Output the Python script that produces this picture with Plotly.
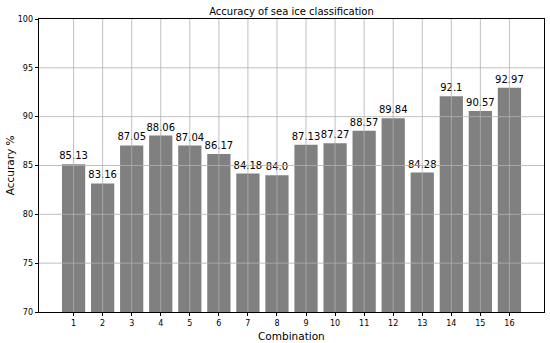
import plotly.graph_objects as go

combinations = list(range(1, 17))
accuracy = [85.13, 83.16, 87.05, 88.06, 87.04, 86.17, 84.18, 84.0,
            87.13, 87.27, 88.57, 89.84, 84.28, 92.1, 90.57, 92.97]
labels = ["85.13", "83.16", "87.05", "88.06", "87.04", "86.17", "84.18", "84.0",
          "87.13", "87.27", "88.57", "89.84", "84.28", "92.1", "90.57", "92.97"]
y_ticks = [70, 75, 80, 85, 90, 95, 100]

font = "DejaVu Sans"

fig = go.Figure(go.Bar(
    x=combinations, y=accuracy, width=0.8,
    marker=dict(color="#808080", line=dict(width=0)),
    text=labels, textposition="outside", cliponaxis=False, constraintext="none",
    textfont=dict(family=font, size=10, color="black"),
))

shapes = []
for t in combinations:
    shapes.append(dict(type="line", xref="x", yref="paper", x0=t, x1=t, y0=0, y1=1,
                       line=dict(color="#b0b0b0", width=0.8), layer="above"))
for t in y_ticks[1:-1]:
    shapes.append(dict(type="line", xref="paper", yref="y", x0=0, x1=1, y0=t, y1=t,
                       line=dict(color="#b0b0b0", width=0.8), layer="above"))

fig.update_layout(
    width=550, height=343,
    margin=dict(l=39, r=6, t=19, b=31, autoexpand=False),
    paper_bgcolor="white", plot_bgcolor="white",
    font=dict(family=font, color="black"),
    title=dict(text="Accuracy of sea ice classification", xref="paper", x=0.5, xanchor="center",
               yref="container", y=1 - 11 / 343, yanchor="middle", font=dict(family=font, size=10)),
    showlegend=False,
    shapes=shapes,
    annotations=[
        dict(text="Combination", xref="paper", yref="paper", x=0.5, y=-0.053,
             xanchor="center", yanchor="top", showarrow=False, font=dict(family=font, size=10.5)),
        dict(text="Accurary %", xref="paper", yref="paper", x=-0.058, y=0.5, textangle=-90,
             xanchor="center", yanchor="middle", showarrow=False, font=dict(family=font, size=10.5)),
    ],
)
fig.update_xaxes(
    range=[-0.19, 17.19], tickvals=combinations, ticktext=[str(c) for c in combinations],
    showgrid=False, zeroline=False, showline=True, linecolor="black", linewidth=0.8, mirror=True,
    ticks="outside", ticklen=3.5, tickwidth=0.8, tickcolor="black", automargin=False,
    tickfont=dict(family=font, size=8),
)
fig.update_yaxes(
    range=[70, 100], tickvals=y_ticks, ticktext=[str(t) for t in y_ticks],
    showgrid=False, zeroline=False, showline=True, linecolor="black", linewidth=0.8, mirror=True,
    ticks="outside", ticklen=3.5, tickwidth=0.8, tickcolor="black", automargin=False,
    tickfont=dict(family=font, size=8),
)

fig.write_html("out.html", config={"displayModeBar": False})
with open("out.html", encoding="utf-8") as f:
    html = f.read()
html = html.replace("<body>", '<body style="margin:0;padding:0;overflow:hidden">', 1)
with open("out.html", "w", encoding="utf-8") as f:
    f.write(html)
